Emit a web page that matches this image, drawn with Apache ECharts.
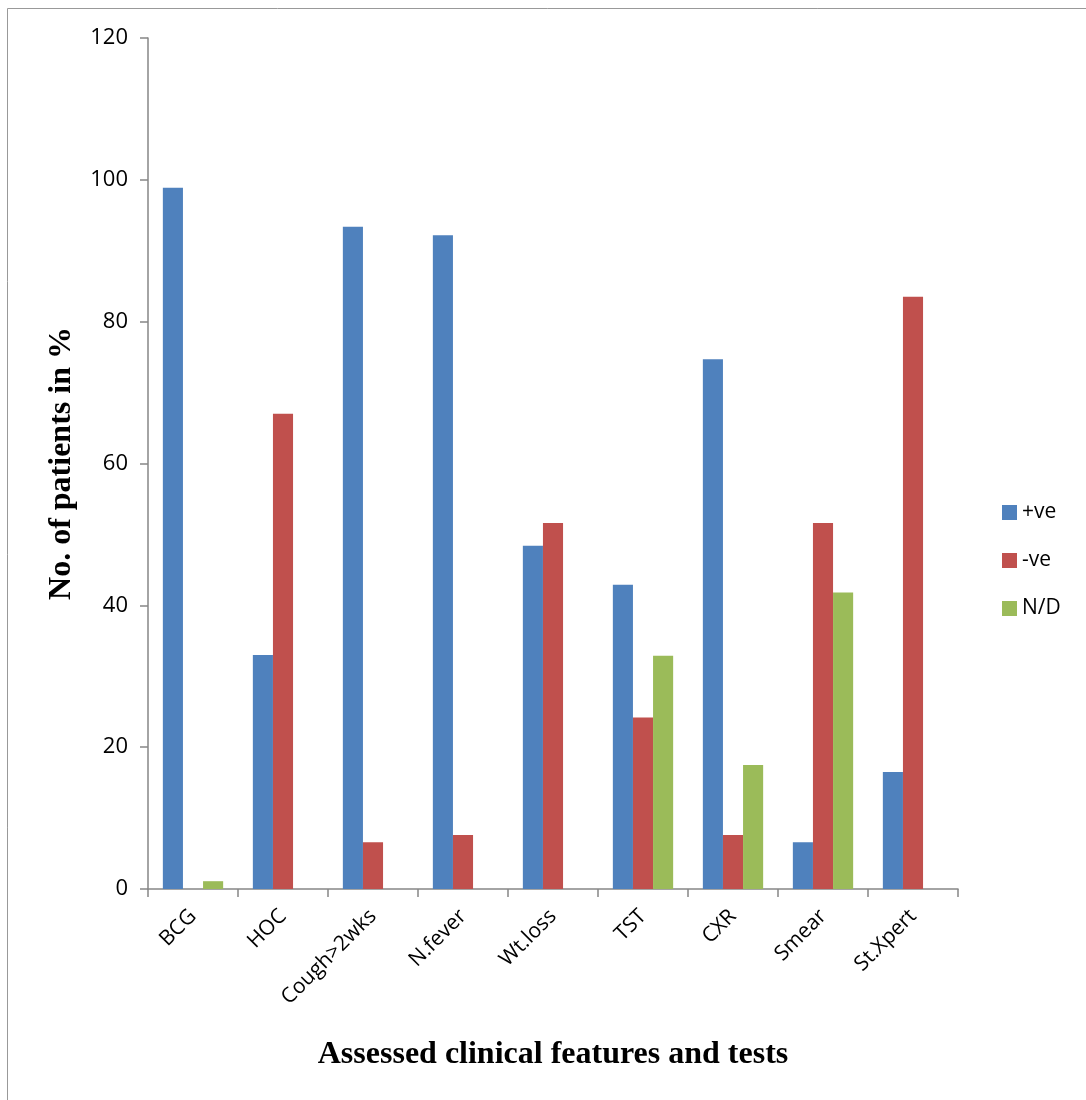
<!DOCTYPE html>
<html><head><meta charset="utf-8">
<script src="https://cdn.jsdelivr.net/npm/echarts@6/dist/echarts.min.js"></script>
<style>html,body{margin:0;padding:0;background:#fff}#c{width:1086px;height:1100px}</style>
</head><body><div id="c"></div>
<script>
const categories = ['BCG','HOC','Cough>2wks','N.fever','Wt.loss','TST','CXR','Smear','St.Xpert'];
const positive = [98.9, 33.0, 93.4, 92.2, 48.4, 42.9, 74.7, 6.6, 16.5];
const negative = [0, 67.0, 6.6, 7.6, 51.6, 24.2, 7.6, 51.6, 83.5];
const notDone = [1.1, 0, 0, 0, 0, 32.9, 17.5, 41.8, 0];
const seriesNames = ['+ve','-ve','N/D'];
const colors = ['#4F81BD','#C0504D','#9BBB59'];

const chart = echarts.init(document.getElementById('c'));
const axisGray = '#868686';
chart.setOption({
  animation: false,
  color: colors,
  graphic: [{type:'rect', shape:{x:7.5,y:8.5,width:1090,height:1100}, style:{fill:'none', stroke:'#999', lineWidth:1}}],
  legend: {
    orient: 'vertical', left: 997, top: 497, itemGap: 27, itemWidth: 15, itemHeight: 15,
    icon: 'rect',
    textStyle: {fontFamily: 'Open Sans', fontSize: 21, color: '#000'},
    data: seriesNames
  },
  grid: {left: 148, right: 128, top: 38, bottom: 211, containLabel: false},
  xAxis: {
    type: 'category', data: categories,
    name: 'Assessed clinical features and tests', nameLocation: 'middle', nameGap: 150,
    nameTextStyle: {fontFamily: 'Liberation Serif', fontWeight: 'bold', fontSize: 32, color: '#000'},
    axisLine: {lineStyle: {color: axisGray, width: 1.5}},
    axisTick: {show: true, alignWithLabel: false, length: 8, lineStyle: {color: axisGray, width: 1.5}},
    axisLabel: {rotate: 45, fontFamily: 'Open Sans', fontSize: 21, color: '#000', margin: 24}
  },
  yAxis: {
    type: 'value', min: 0, max: 120, interval: 20,
    name: 'No. of patients in %', nameLocation: 'middle', nameGap: 70, nameRotate: 90,
    nameTextStyle: {fontFamily: 'Liberation Serif', fontWeight: 'bold', fontSize: 32, color: '#000'},
    axisLine: {show: true, lineStyle: {color: axisGray, width: 1.5}},
    axisTick: {show: true, length: 8, lineStyle: {color: axisGray, width: 1.5}},
    splitLine: {show: false},
    axisLabel: {fontFamily: 'Open Sans', fontSize: 22, color: '#000', margin: 20}
  },
  series: [
    {name: seriesNames[0], type: 'bar', data: positive, barGap: '0%', barCategoryGap: '33%'},
    {name: seriesNames[1], type: 'bar', data: negative, barGap: '0%', barCategoryGap: '33%'},
    {name: seriesNames[2], type: 'bar', data: notDone, barGap: '0%', barCategoryGap: '33%'}
  ]
});
</script></body></html>
